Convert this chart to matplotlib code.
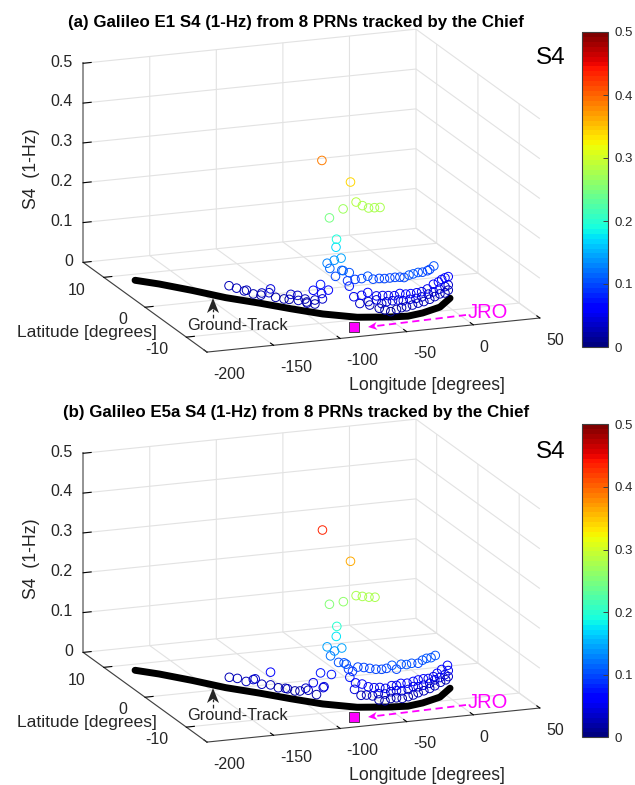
import matplotlib
matplotlib.use("Agg")
import numpy as np
import matplotlib.pyplot as plt
from matplotlib.cm import ScalarMappable
from matplotlib.colors import Normalize
from matplotlib.lines import Line2D
from matplotlib.patches import Polygon

plt.rcParams["font.family"] = ["Liberation Sans", "DejaVu Sans"]

# ground track and station
track_lon = [-182.1, -169.7, -153.6, -138.3, -121.1, -105.5, -89.2, -69.5, -47.8, -35.1, -22.5, -5.8, 8.9]
track_lat = [8.2, 6.4, 3.5, 0.4, -2.2, -4.8, -7.3, -9.3, -10.2, -10.5, -10.0, -8.8, -6.5]
jro_lon = [-80.0]
jro_lat = [-12.0]

# panel (a), Galileo E1
lon_a = [-89.2, -73.0, -85.4, -77.3, -69.4, -65.6, -61.9, -58.1, -54.2, -81.3, -81.7,
         -135.7, -132.2, -127.5, -128.6, -124.3, -120.4, -120.7, -116.0, -116.8, -113.4, -109.0, -105.4,
         -106.3, -101.9, -101.6, -98.1, -97.2, -92.9, -96.9, -93.8, -89.9, -85.9, -89.4, -89.1, -92.9,
         -86.5, -82.7, -78.5, -85.1, -78.3, -77.3, -73.6, -82.1, -74.6, -73.6, -70.2, -66.2, -62.5, -58.8,
         -54.8, -51.5, -47.8, -44.5, -41.2, -38.0, -34.0, -30.5, -25.6, -21.4, -16.4, -14.1, -10.1,
         -70.8, -66.2, -62.5, -56.6, -52.6, -48.9, -45.0, -41.2, -36.4, -32.7, -27.3, -22.3, -16.8, -10.7,
         -5.7, -2.0, 2.0, 6.0,
         -67.2, -62.1, -56.6, -53.3, -50.0, -46.1, -42.3, -38.6, -33.3, -27.9, -22.3, -15.8, -10.7, -4.7, 2.0, 6.0,
         -61.0, -54.8, -51.1, -47.4, -43.4, -39.9, -35.9, -31.1, -25.6, -20.1, -14.1, -9.1, -4.0, 2.0, 6.0]
lat_a = [-7.1, -8.8, -7.7, -8.4, -9.0, -9.3, -9.6, -9.8, -9.9, -8.1, -8.1,
         0.4, -0.3, -1.2, -1.0, -1.8, -2.6, -2.5, -3.3, -3.2, -3.7, -4.3, -4.8,
         -4.7, -5.3, -5.4, -5.9, -6.0, -6.6, -6.0, -6.5, -7.0, -7.6, -7.1, -7.2, -6.6,
         -7.5, -8.0, -8.3, -7.7, -8.4, -8.4, -8.7, -8.1, -8.6, -8.7, -9.0, -9.3, -9.6, -9.7,
         -9.9, -10.1, -10.2, -10.4, -10.5, -10.5, -10.4, -10.3, -9.9, -9.6, -9.2, -9.0, -8.7,
         -8.9, -9.3, -9.6, -9.8, -10.0, -10.2, -10.4, -10.5, -10.4, -10.4, -10.1, -9.7, -9.3, -8.8,
         -8.4, -8.0, -7.5, -7.0,
         -9.2, -9.6, -9.8, -10.0, -10.1, -10.3, -10.5, -10.5, -10.4, -10.1, -9.7, -9.2, -8.8, -8.3, -7.5, -7.0,
         -9.6, -9.9, -10.1, -10.3, -10.4, -10.5, -10.4, -10.3, -9.9, -9.5, -9.0, -8.6, -8.2, -7.5, -7.0]
s4_a = [0.384, 0.337, 0.243, 0.268, 0.287, 0.279, 0.274, 0.275, 0.275, 0.191, 0.171,
        0.029, 0.027, 0.027, 0.024, 0.021, 0.028, 0.022, 0.042, 0.032, 0.023, 0.022, 0.036,
        0.023, 0.036, 0.024, 0.030, 0.023, 0.021, 0.020, 0.055, 0.072, 0.061, 0.050, 0.037, 0.031,
        0.128, 0.138, 0.144, 0.116, 0.114, 0.113, 0.109, 0.098, 0.088, 0.075, 0.093, 0.096, 0.103, 0.095,
        0.097, 0.097, 0.098, 0.100, 0.100, 0.098, 0.102, 0.103, 0.102, 0.099, 0.098, 0.099, 0.104,
        0.049, 0.054, 0.062, 0.053, 0.054, 0.054, 0.054, 0.059, 0.055, 0.055, 0.053, 0.051, 0.053, 0.059,
        0.060, 0.062, 0.061, 0.059,
        0.033, 0.039, 0.043, 0.034, 0.038, 0.041, 0.043, 0.040, 0.041, 0.039, 0.038, 0.039, 0.040, 0.041, 0.039, 0.038,
        0.030, 0.022, 0.018, 0.014, 0.019, 0.023, 0.023, 0.025, 0.025, 0.024, 0.024, 0.026, 0.028, 0.023, 0.025]

# panel (b), Galileo E5a
lon_b = [-89.1, -73.0, -85.4, -77.1, -69.4, -65.6, -61.6, -57.7, -81.1, -81.5,
         -86.5, -82.5, -78.3, -84.9, -80.1, -76.9, -75.6, -74.2, -71.8, -73.2,
         -68.4, -64.8, -61.0, -57.0, -53.3, -50.0, -46.5, -43.4, -40.2, -35.9, -31.7, -25.6, -21.4, -17.4, -13.1, -8.7,
         -135.5, -131.9, -127.8, -124.3, -123.5, -120.4, -116.0, -116.0, -112.0, -108.2, -107.3,
         -103.3, -100.7, -97.6, -96.4, -93.8, -89.9, -84.2, -88.2, -92.0, -88.5,
         -69.8, -65.8, -62.1, -58.3, -54.4, -50.7, -46.7, -43.4, -40.4, -35.4, -30.5, -25.6, -20.7, -15.8, -10.7,
         -6.7, -2.0, 4.8,
         -70.6, -66.6, -63.1, -59.2, -55.5, -51.1, -47.4, -43.4, -39.9, -34.6, -30.5, -25.6, -20.7, -14.1, -9.1,
         -4.0, 2.0, 6.0,
         -55.0, -51.1, -47.4, -43.4, -39.4, -34.6, -30.5, -25.6, -20.1, -14.1, -9.1, -3.2, 3.2, 6.0]
lat_b = [-7.2, -8.8, -7.7, -8.4, -9.0, -9.3, -9.6, -9.8, -8.1, -8.1,
         -7.5, -8.0, -8.4, -7.8, -8.2, -8.5, -8.6, -8.7, -8.9, -8.7,
         -9.1, -9.4, -9.6, -9.8, -10.0, -10.1, -10.3, -10.4, -10.5, -10.4, -10.3, -9.9, -9.6, -9.3, -9.0, -8.6,
         0.4, -0.4, -1.2, -1.8, -2.0, -2.6, -3.3, -3.3, -3.9, -4.4, -4.6,
         -5.1, -5.5, -5.9, -6.1, -6.5, -7.0, -7.8, -7.3, -6.7, -7.2,
         -9.0, -9.3, -9.6, -9.8, -9.9, -10.1, -10.3, -10.4, -10.5, -10.4, -10.3, -9.9, -9.6, -9.2, -8.8,
         -8.4, -8.0, -7.2,
         -9.0, -9.3, -9.5, -9.7, -9.9, -10.1, -10.3, -10.4, -10.5, -10.4, -10.3, -9.9, -9.6, -9.0, -8.6,
         -8.2, -7.5, -7.0,
         -9.9, -10.1, -10.3, -10.4, -10.5, -10.4, -10.3, -9.9, -9.5, -9.0, -8.6, -8.1, -7.3, -7.0]
s4_b = [0.436, 0.364, 0.252, 0.261, 0.278, 0.277, 0.276, 0.276, 0.198, 0.173,
        0.144, 0.136, 0.145, 0.123, 0.108, 0.108, 0.105, 0.093, 0.088, 0.072,
        0.099, 0.099, 0.097, 0.095, 0.095, 0.097, 0.105, 0.095, 0.107, 0.104, 0.105, 0.100, 0.104, 0.105, 0.103, 0.104,
        0.025, 0.027, 0.024, 0.032, 0.035, 0.025, 0.027, 0.059, 0.023, 0.024, 0.024,
        0.021, 0.023, 0.032, 0.028, 0.049, 0.076, 0.076, 0.043, 0.020, 0.040,
        0.059, 0.057, 0.051, 0.049, 0.049, 0.047, 0.054, 0.054, 0.059, 0.057, 0.059, 0.058, 0.057, 0.053, 0.053,
        0.057, 0.062, 0.064,
        0.043, 0.029, 0.030, 0.028, 0.034, 0.033, 0.039, 0.041, 0.040, 0.041, 0.046, 0.041, 0.041, 0.039, 0.043,
        0.044, 0.044, 0.049,
        0.018, 0.016, 0.022, 0.023, 0.021, 0.023, 0.025, 0.026, 0.026, 0.026, 0.028, 0.031, 0.029, 0.034]

lon_ticks = [-200, -150, -100, -50, 0, 50]
lat_ticks = [-10, 0, 10]
s4_ticks = [0, 0.1, 0.2, 0.3, 0.4, 0.5]
s4_labels = ["0", "0.1", "0.2", "0.3", "0.4", "0.5"]

W, H = 635, 785
TXT = "#262626"
fig = plt.figure(figsize=(W / 100, H / 100), dpi=100)
cmap = plt.get_cmap("jet", 64)
norm = Normalize(0, 0.5)


def px_text(x, y, s, **kw):
    kw.setdefault("color", TXT)
    kw.setdefault("ha", "center")
    kw.setdefault("va", "center")
    fig.text(x / W, 1 - y / H, s, **kw)


def px_xy(x, y):
    return x / W, 1 - y / H


# dashed stem plus a notched head, given in picture pixels
def px_arrow(start, end, color, head_len, head_half, lw, dashes):
    s = np.array(start, float)
    e = np.array(end, float)
    d = (e - s) / np.hypot(*(e - s))
    n = np.array([-d[1], d[0]])
    base = e - d * head_len
    notch = e - d * head_len * 0.72
    sx, sy = px_xy(*s)
    nx, ny = px_xy(*notch)
    fig.add_artist(Line2D([sx, nx], [sy, ny], color=color, lw=lw, linestyle=(0, dashes), transform=fig.transFigure))
    pts = [e, base + n * head_half, notch, base - n * head_half]
    fig.add_artist(Polygon([px_xy(*p) for p in pts], closed=True, facecolor=color, edgecolor="none",
                           transform=fig.transFigure))


def draw_panel(lon, lat, s4, title, dy, s4_y, cbar_top, cbar_bottom):
    ax = fig.add_axes([-11.3 / W, 1 - (392.2 + dy) / H, 1, 0.5], projection="3d")
    ax.set_proj_type("ortho")
    ax.view_init(elev=15.8, azim=-110.6)
    ax.set_box_aspect((355.7, 352, 207), zoom=1.339)
    ax.set_xlim(-200, 50)
    ax.set_ylim(-15, 15)
    ax.set_zlim(0, 0.5)
    ax.patch.set_alpha(0)

    ax.set_xticks(lon_ticks, [str(v) for v in lon_ticks])
    ax.set_yticks(lat_ticks, [str(v) for v in lat_ticks])
    ax.set_zticks(s4_ticks, s4_labels)
    ax.tick_params(axis="x", labelsize=11.5, labelcolor=TXT, pad=-0.5)
    ax.tick_params(axis="y", labelsize=11.5, labelcolor=TXT, pad=0)
    ax.tick_params(axis="z", labelsize=11.5, labelcolor=TXT, pad=-4.7)
    for t in ax.xaxis.get_ticklabels():
        t.set_ha("left")
    for t in ax.yaxis.get_ticklabels():
        t.set_ha("right")
        t.set_va("center")
    for t in ax.zaxis.get_ticklabels():
        t.set_ha("right")
        t.set_va("center")

    for axis in (ax.xaxis, ax.yaxis, ax.zaxis):
        axis.set_pane_color((1, 1, 1, 0))
        axis.pane.set_edgecolor("#dcdcdc")
        axis.line.set_color("#404040")
        axis.line.set_linewidth(0.8)
        axis._axinfo["grid"].update(color="#e2e2e2", linewidth=0.8)
        axis._axinfo["tick"].update(inward_factor=0, outward_factor=0.3, color="#404040")
    ax.zaxis.line.set_color("#8c8c8c")
    ax.zaxis.line.set_linewidth(1.3)

    ax.plot(track_lon, track_lat, np.zeros(len(track_lon)), color="black", lw=5, solid_capstyle="round",
            solid_joinstyle="round", zorder=2)
    ax.scatter(lon, lat, s4, facecolors="none", edgecolors=cmap(norm(np.array(s4))),
               s=38, linewidths=0.7, depthshade=False, zorder=3)
    ax.scatter(jro_lon, jro_lat, [0], marker="s", s=46, color="#ff00ff", edgecolors="#303030",
               linewidths=0.6, depthshade=False, zorder=4)

    px_text(296, 22 + dy, title, fontweight="bold", fontsize=12.2, color="black")
    px_text(551, s4_y, "S4", fontsize=17.5, color="black")
    px_text(32, 169 + dy, "S4  (1-Hz)", fontsize=12.7, rotation=90)
    px_text(87, 332 + dy, "Latitude [degrees]", fontsize=12.6)
    px_text(427, 385 + dy, "Longitude [degrees]", fontsize=12.7)
    px_text(237, 326 + dy, "Ground-Track", fontsize=11.8)
    px_text(488, 313 + dy, "JRO", fontsize=14.5, color="#ff00ff")
    px_arrow((466, 315 + dy), (368, 327 + dy), "#ff00ff", 9, 4, 1.3, (4, 2.5))
    px_arrow((213, 318 + dy), (213, 298 + dy), "#262626", 15, 6, 0.9, (3, 2))

    cax = fig.add_axes([581.7 / W, 1 - cbar_bottom / H, 26.3 / W, (cbar_bottom - cbar_top) / H])
    cb = fig.colorbar(ScalarMappable(norm=norm, cmap=cmap), cax=cax, ticks=s4_ticks)
    cb.ax.set_yticklabels(s4_labels)
    cb.ax.tick_params(direction="in", length=3.5, width=0.7, color="#404040", labelsize=9.5,
                      labelcolor=TXT, pad=5)
    cb.outline.set_edgecolor("#404040")
    cb.outline.set_linewidth(0.8)


draw_panel(lon_a, lat_a, s4_a, "(a) Galileo E1 S4 (1-Hz) from 8 PRNs tracked by the Chief", 0, 58, 32, 347)
draw_panel(lon_b, lat_b, s4_b, "(b) Galileo E5a S4 (1-Hz) from 8 PRNs tracked by the Chief", 390, 452, 424.3, 737.3)

fig.savefig("out.png", dpi=100)
